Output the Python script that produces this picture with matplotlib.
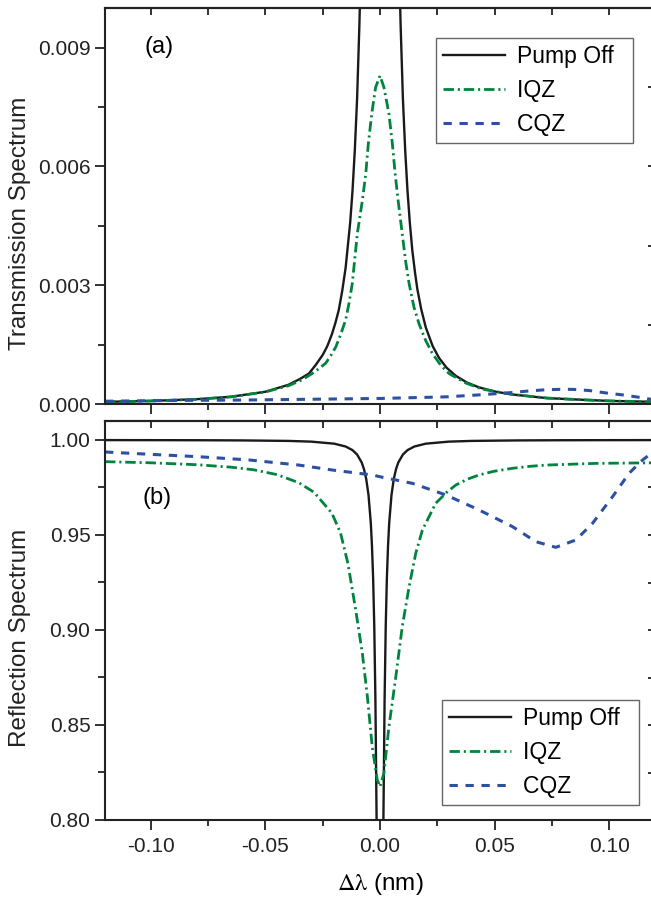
import matplotlib
matplotlib.use("Agg")
import matplotlib.pyplot as plt
from matplotlib.ticker import MultipleLocator, FormatStrFormatter

plt.rcParams['font.family'] = ['Liberation Sans', 'DejaVu Sans']
plt.rcParams['axes.unicode_minus'] = False
plt.rcParams['lines.scale_dashes'] = False
plt.rcParams['mathtext.fontset'] = 'stix'

# ---------------- data ----------------
labels = ["Pump Off", "IQZ", "CQZ"]

# (a) transmission
t_off_x = [-0.12, -0.10, -0.08, -0.065, -0.05, -0.04, -0.035, -0.031, -0.028, -0.025, -0.023,
           -0.021, -0.0195, -0.018, -0.0165, -0.015, -0.013, -0.012, -0.011, -0.010, -0.009,
           -0.0085, -0.008, -0.006, 0.0,
           0.006, 0.008, 0.0085, 0.009, 0.010, 0.011, 0.012, 0.013, 0.0141, 0.0153, 0.0163,
           0.018, 0.020, 0.023, 0.0258, 0.029, 0.0331, 0.038, 0.0432,
           0.0505, 0.0578, 0.0726, 0.0869, 0.10, 0.12]
t_off_y = [0.000054, 0.000078, 0.000121, 0.000183, 0.00031, 0.000484, 0.00063, 0.00077, 0.00099, 0.00124, 0.00146,
           0.00176, 0.00204, 0.00237, 0.00285, 0.00344, 0.00459, 0.00538, 0.0064, 0.0077, 0.00957,
           0.0107, 0.0121, 0.0215, 0.05,
           0.0215, 0.0121, 0.0107, 0.00957, 0.0077, 0.0064, 0.00538, 0.00459, 0.00388, 0.00331, 0.0029,
           0.00239, 0.00193, 0.00146, 0.00116, 0.00092, 0.00071, 0.00054, 0.00042,
           0.00031, 0.00024, 0.00015, 0.00011, 0.000078, 0.000054]

t_iqz_x = [-0.12, -0.10, -0.08, -0.065, -0.05, -0.04, -0.034, -0.0296, -0.0265, -0.0237, -0.0215,
           -0.0193, -0.0172, -0.015, -0.0135, -0.0121, -0.0099, -0.0077, -0.0062, -0.0051,
           -0.0036, -0.0019, 0.0,
           0.0017, 0.0039, 0.0054, 0.0066, 0.0079, 0.0097, 0.0112, 0.0127, 0.0148, 0.017, 0.0198,
           0.0228, 0.0265, 0.0301, 0.0374, 0.045, 0.058, 0.073, 0.087, 0.10, 0.12]
t_iqz_y = [0.000052, 0.000076, 0.000118, 0.00018, 0.000305, 0.00046, 0.00061, 0.00077, 0.0009, 0.00103, 0.00122,
           0.00144, 0.00175, 0.00212, 0.00255, 0.00304, 0.0043, 0.00514, 0.00582, 0.00657,
           0.00733, 0.0080, 0.00829,
           0.0080, 0.00733, 0.00657, 0.00582, 0.00514, 0.0043, 0.0036, 0.00304, 0.00245, 0.00203, 0.00162,
           0.00128, 0.00098, 0.00077, 0.00053, 0.00037, 0.00024, 0.00015, 0.00011, 0.000078, 0.000054]

t_cqz_x = [-0.12, -0.09, -0.06, -0.03, 0.0, 0.0287, 0.0432, 0.0505, 0.0578, 0.0651, 0.0724,
           0.0785, 0.084, 0.0913, 0.0985, 0.1058, 0.113, 0.12]
t_cqz_y = [0.00007, 0.00009, 0.0001, 0.00012, 0.00014, 0.00018, 0.00023, 0.00026, 0.00029, 0.00033, 0.00036,
           0.00037, 0.00037, 0.00034, 0.00028, 0.00023, 0.00017, 0.0001]

# (b) reflection
r_off_x = [-0.12, -0.10, -0.08, -0.06, -0.04, -0.03, -0.02, -0.015, -0.012, -0.010, -0.008,
           -0.007, -0.006, -0.005, -0.004, -0.0035, -0.003, -0.0025, -0.002, -0.0015, -0.001,
           -0.0005, 0.0, 0.0005, 0.001, 0.0015, 0.002, 0.0025, 0.003, 0.0035, 0.004, 0.005,
           0.006, 0.007, 0.008, 0.010, 0.012, 0.015, 0.02, 0.03, 0.04, 0.06, 0.08, 0.10, 0.12]
r_off_y = [0.99995, 0.99992, 0.99988, 0.99978, 0.99952, 0.99914, 0.99807, 0.99658, 0.99467, 0.99237, 0.9882,
           0.9847, 0.9794, 0.9709, 0.9561, 0.9441, 0.9273, 0.9020, 0.863, 0.802, 0.709,
           0.596, 0.535, 0.596, 0.709, 0.802, 0.863, 0.9020, 0.9273, 0.9441, 0.9561, 0.9709,
           0.9794, 0.9847, 0.9882, 0.99237, 0.99467, 0.99658, 0.99807, 0.99914, 0.99952, 0.99978, 0.99988, 0.99992, 0.99995]

r_iqz_x = [-0.12, -0.10, -0.08, -0.065, -0.055, -0.045, -0.0354, -0.0288, -0.021, -0.0172, -0.014,
           -0.0106, -0.0077, -0.0055, -0.0034, -0.0012, 0.0, 0.0017, 0.0039, 0.0069, 0.0097,
           0.0127, 0.0156, 0.0185, 0.0243, 0.0294, 0.0331, 0.038, 0.0432, 0.05, 0.0578, 0.065,
           0.0724, 0.0942, 0.12]
r_iqz_y = [0.9886, 0.9880, 0.9870, 0.9857, 0.9843, 0.9818, 0.9775, 0.9725, 0.9615, 0.951, 0.935,
           0.9105, 0.8877, 0.8649, 0.8386, 0.8211, 0.8175, 0.8246, 0.8491, 0.8754, 0.9017,
           0.9228, 0.9404, 0.9526, 0.9667, 0.9728, 0.9763, 0.9793, 0.9816, 0.9836, 0.9851, 0.9861,
           0.9868, 0.9877, 0.988]

r_cqz_x = [-0.12, -0.1009, -0.079, -0.0572, -0.0354, -0.0208, -0.0034, 0.001, 0.0141, 0.0287,
           0.0432, 0.0578, 0.068, 0.0767, 0.0855, 0.0927, 0.1015, 0.1087, 0.1146, 0.12]
r_cqz_y = [0.9937, 0.9925, 0.9912, 0.9895, 0.9868, 0.9842, 0.9816, 0.9804, 0.9772, 0.9711,
           0.9632, 0.9544, 0.9465, 0.9435, 0.9474, 0.9561, 0.9702, 0.9825, 0.9895, 0.9945]

# ---------------- styling ----------------
c_off = "#1a1a1a"
c_iqz = "#00843D"
c_cqz = "#2E50A2"
st_off = dict(color=c_off, lw=1.7, linestyle="-")
st_iqz = dict(color=c_iqz, lw=2.0, linestyle=(0, (7.5, 2.8, 1.5, 2.8)))
st_cqz = dict(color=c_cqz, lw=2.2, linestyle=(0, (6.0, 5.5)))

W, H = 651, 900
fig = plt.figure(figsize=(W / 100, H / 100), dpi=100)
L, R = 105, 655
ax1 = fig.add_axes([L / W, 1 - 404 / H, (R - L) / W, 396 / H])
ax2 = fig.add_axes([L / W, 1 - 820 / H, (R - L) / W, 399 / H])

ax1.plot(t_off_x, t_off_y, label=labels[0], **st_off)
ax1.plot(t_iqz_x, t_iqz_y, label=labels[1], **st_iqz)
ax1.plot(t_cqz_x, t_cqz_y, label=labels[2], **st_cqz)

ax2.plot(r_off_x, r_off_y, label=labels[0], **st_off)
ax2.plot(r_iqz_x, r_iqz_y, label=labels[1], **st_iqz)
ax2.plot(r_cqz_x, r_cqz_y, label=labels[2], **st_cqz)

ax1.set_ylim(0, 0.010)
ax2.set_ylim(0.80, 1.01)
for ax in (ax1, ax2):
    ax.set_xlim(-0.12, 0.12)
    ax.xaxis.set_major_locator(MultipleLocator(0.05))
    ax.xaxis.set_minor_locator(MultipleLocator(0.025))
    ax.xaxis.set_major_formatter(FormatStrFormatter('%.2f'))
    for s in ax.spines.values():
        s.set_linewidth(1.5)
        s.set_color("#222222")
    ax.tick_params(axis='both', which='major', direction='out', length=7, width=1.3,
                   labelsize=15, top=False, right=False, colors="#222222")
    ax.tick_params(axis='both', which='minor', direction='out', length=4.5, width=1.3,
                   top=False, right=False, colors="#222222")
    ax.tick_params(axis='y', which='minor', length=5)
    ax.tick_params(axis='x', which='major', pad=5)
    # inward ticks on top and right
    sx = ax.secondary_xaxis('top')
    sx.xaxis.set_major_locator(MultipleLocator(0.05))
    sx.xaxis.set_minor_locator(MultipleLocator(0.025))
    sx.tick_params(axis='x', which='both', direction='in', length=5, width=1.3,
                   labeltop=False, colors="#222222")
    sx.spines['top'].set_linewidth(1.5)
    sy = ax.secondary_yaxis('right')
    sy.yaxis.set_minor_locator(plt.NullLocator())
    sy.tick_params(axis='y', which='both', direction='in', length=5, width=1.3,
                   labelright=False, colors="#222222")
    sy.spines['right'].set_linewidth(1.5)
    ax.yaxis.label.set_color("#222222")

ax1.yaxis.set_major_locator(MultipleLocator(0.003))
ax1.yaxis.set_minor_locator(MultipleLocator(0.0015))
ax1.yaxis.set_major_formatter(FormatStrFormatter('%.3f'))
ax1.tick_params(axis='x', labelbottom=False)
ax2.yaxis.set_major_locator(MultipleLocator(0.05))
ax2.yaxis.set_minor_locator(MultipleLocator(0.025))
ax2.yaxis.set_major_formatter(FormatStrFormatter('%.2f'))

ax1.set_ylabel("Transmission Spectrum", fontsize=17.5)
ax1.yaxis.set_label_coords(-0.135, 0.457)
ax2.set_ylabel("Reflection Spectrum", fontsize=17.5)
ax2.yaxis.set_label_coords(-0.135, 0.456)
ax2.set_xlabel(r"$\mathrm{\Delta\lambda}$ (nm)", fontsize=17.5, labelpad=11)

ax1.text(159, 900 - 47, "(a)", transform=None, fontsize=17, ha='center', va='center')
ax2.text(157, 900 - 498, "(b)", transform=None, fontsize=17, ha='center', va='center')

leg_kw = dict(fontsize=16.5, frameon=True, fancybox=False, framealpha=1, edgecolor="#666666",
              handlelength=2.7, handletextpad=0.52, labelspacing=0.48, borderpad=0.3,
              borderaxespad=0)
padded = [lab + "  " for lab in labels]
h1, _ = ax1.get_legend_handles_labels()
h2, _ = ax2.get_legend_handles_labels()
l1 = ax1.legend(h1, padded, loc='upper right',
                bbox_to_anchor=((633 - L) / (R - L), (404 - 38) / 396), **leg_kw)
l2 = ax2.legend(h2, padded, loc='lower right',
                bbox_to_anchor=((639 - L) / (R - L), (820 - 805) / 399), **leg_kw)
for lg in (l1, l2):
    lg.get_frame().set_linewidth(1.0)

fig.savefig("out.png", dpi=100)
